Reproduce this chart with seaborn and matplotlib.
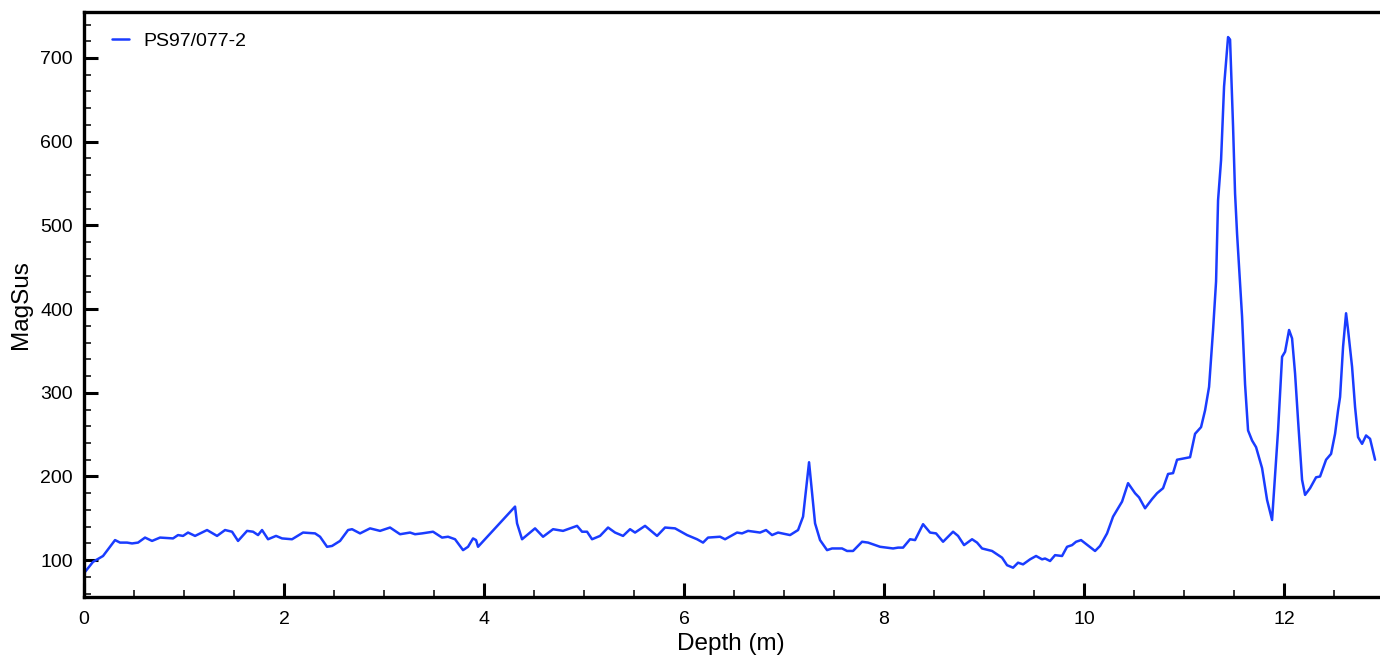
import matplotlib
matplotlib.use("Agg")
import matplotlib.pyplot as plt
from matplotlib.ticker import MultipleLocator
import seaborn as sns

sns.set_style("white")
plt.rcParams["font.family"] = ["Liberation Sans", "DejaVu Sans"]
plt.rcParams["text.color"] = "black"
plt.rcParams["axes.labelcolor"] = "black"
plt.rcParams["xtick.color"] = "black"
plt.rcParams["ytick.color"] = "black"

# ----- data -----
core_label = "PS97/077-2"

depth_m = [0.01, 0.09, 0.16, 0.19, 0.31, 0.36, 0.43, 0.48, 0.54, 0.61, 0.68, 0.76, 0.89, 0.94, 0.99,
           1.04, 1.11, 1.23, 1.33, 1.41, 1.48, 1.54, 1.63, 1.69, 1.74, 1.78, 1.84, 1.92, 1.98, 2.08,
           2.19, 2.31, 2.36, 2.43, 2.48, 2.56, 2.64, 2.68, 2.76, 2.86, 2.96, 3.06, 3.16, 3.26, 3.31,
           3.38, 3.49, 3.58, 3.64, 3.71, 3.79, 3.84, 3.89, 3.92, 3.94, 4.31, 4.33, 4.38, 4.43, 4.51,
           4.59, 4.69, 4.79, 4.93, 4.98, 5.03, 5.08, 5.16, 5.24, 5.31, 5.39, 5.46, 5.51, 5.61, 5.73,
           5.81, 5.91, 6.03, 6.13, 6.19, 6.24, 6.36, 6.41, 6.53, 6.58, 6.64, 6.76, 6.82, 6.88, 6.94,
           7.06, 7.14, 7.19, 7.25, 7.31, 7.36, 7.43, 7.48, 7.58, 7.63, 7.69, 7.78, 7.84, 7.96, 8.09,
           8.14, 8.19, 8.26, 8.31, 8.39, 8.46, 8.52, 8.59, 8.69, 8.74, 8.80, 8.88, 8.93, 8.98, 9.08,
           9.18, 9.23, 9.29, 9.34, 9.39, 9.46, 9.52, 9.58, 9.61, 9.66, 9.71, 9.78, 9.83, 9.88, 9.92,
           9.97, 10.11, 10.16, 10.23, 10.29, 10.38, 10.44, 10.51, 10.55, 10.61, 10.68, 10.73, 10.79,
           10.84, 10.89, 10.93, 11.06, 11.11, 11.17, 11.21, 11.25, 11.29, 11.32, 11.34, 11.37, 11.40,
           11.44, 11.46, 11.49, 11.51, 11.53, 11.58, 11.61, 11.64, 11.68, 11.72, 11.78, 11.83, 11.88,
           11.94, 11.98, 12.01, 12.05, 12.08, 12.11, 12.14, 12.18, 12.21, 12.26, 12.32, 12.36, 12.42,
           12.47, 12.51, 12.54, 12.56, 12.59, 12.62, 12.64, 12.68, 12.71, 12.74, 12.78, 12.82, 12.86,
           12.91]

magsus = [86, 98, 103, 105, 124, 121, 121, 120, 121, 127, 123, 127, 126, 130, 129,
          133, 129, 136, 129, 136, 134, 123, 135, 134, 130, 136, 125, 129, 126, 125,
          133, 132, 128, 116, 117, 123, 136, 137, 132, 138, 135, 139, 131, 133, 131,
          132, 134, 127, 128, 125, 112, 116, 126, 124, 116, 164, 144, 125, 130, 138,
          128, 137, 135, 141, 134, 134, 125, 129, 139, 133, 129, 137, 133, 141, 129,
          139, 138, 130, 125, 121, 127, 128, 125, 133, 132, 135, 133, 136, 130, 133,
          130, 136, 152, 217, 144, 124, 112, 114, 114, 111, 111, 122, 121, 116, 114,
          115, 115, 125, 124, 143, 133, 132, 122, 134, 129, 118, 125, 121, 114, 111,
          103, 94, 91, 97, 95, 101, 105, 101, 102, 99, 106, 105, 116, 118, 122,
          124, 111, 117, 132, 152, 170, 192, 180, 175, 162, 173, 180, 186,
          203, 204, 220, 223, 251, 259, 279, 307, 375, 433, 530, 578, 666,
          725, 722, 618, 538, 490, 391, 310, 255, 243, 235, 210, 172, 148,
          255, 343, 349, 375, 365, 323, 267, 196, 178, 186, 199, 200, 220,
          227, 251, 279, 295, 355, 395, 375, 331, 283, 247, 239, 249, 245,
          220]

# ----- plot -----
fig = plt.figure(figsize=(13.8, 6.64), dpi=100)
ax = fig.add_axes([0.0609, 0.1009, 0.9377, 0.8811])

sns.lineplot(x=depth_m, y=magsus, sort=False, estimator=None, color="#1a3cff",
             linewidth=1.8, label=core_label, ax=ax)

ax.set_xlim(0, 12.94)
ax.set_ylim(56, 755)
ax.xaxis.set_major_locator(MultipleLocator(2))
ax.xaxis.set_minor_locator(MultipleLocator(0.5))
ax.yaxis.set_major_locator(MultipleLocator(100))
ax.yaxis.set_minor_locator(MultipleLocator(20))
ax.yaxis.set_major_formatter(lambda v, p: f"{v:.0f}")

ax.tick_params(which="major", direction="in", length=10, width=2.2, labelsize=14,
               bottom=True, left=True, top=False, right=False)
ax.tick_params(which="minor", direction="in", length=5, width=1.1,
               bottom=True, left=True, top=False, right=False)
ax.tick_params(axis="x", which="major", pad=10)
ax.tick_params(axis="y", which="major", pad=8)

for side in ["left", "bottom", "top"]:
    ax.spines[side].set_linewidth(2.4)
    ax.spines[side].set_color("black")
ax.spines["right"].set_visible(False)

ax.set_xlabel("Depth (m)", fontsize=17.5, labelpad=4)
ax.set_ylabel("MagSus", fontsize=17.5, labelpad=6)

ax.legend(loc="upper left", bbox_to_anchor=(0.006, 1.0), frameon=False, fontsize=14,
          handlelength=0.85, handletextpad=0.75, borderaxespad=0.65)

fig.savefig("out.png", dpi=100)
